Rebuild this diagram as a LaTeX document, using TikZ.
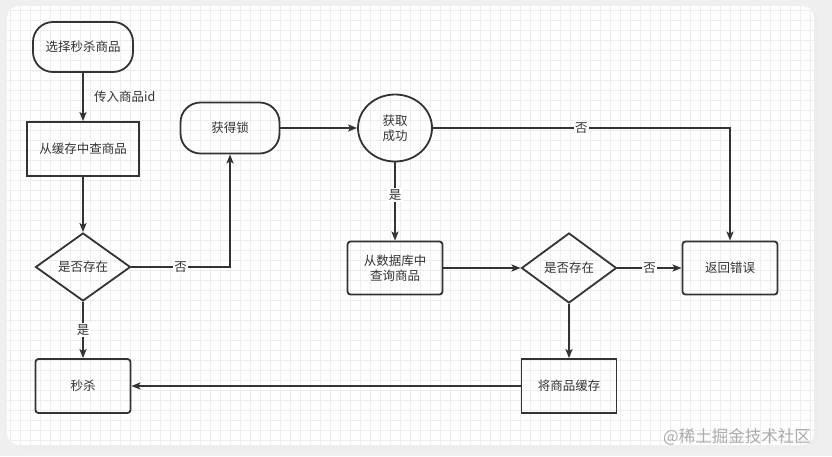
\documentclass[tikz,border=0pt]{standalone}
\usepackage{fontspec}
\setmainfont{Noto Sans CJK SC}
\usetikzlibrary{arrows.meta,shapes.geometric}
\definecolor{ink}{HTML}{333333}
\definecolor{pagebg}{HTML}{EFEFEF}
\definecolor{gridline}{HTML}{EDEDED}
\definecolor{mark}{HTML}{ABABAB}
\tikzset{terminal/.style={draw=ink,line width=1.8pt,rounded corners=20pt,minimum width=100pt,minimum height=50pt},text centered}
\tikzset{stepbox/.style={draw=ink,line width=1.8pt,line join=miter,minimum width=95pt,minimum height=54pt,align=center}}
\tikzset{roundbox/.style={stepbox,rounded corners=3pt}}
\tikzset{check/.style={draw=ink,line width=1.8pt,diamond,inner sep=0pt,minimum width=95pt,minimum height=68pt}}
\tikzset{flow/.style={draw=ink,line width=1.8pt,-{Stealth[length=9pt,width=7pt,inset=2pt]}}}
\tikzset{lab/.style={fill=white,inner sep=1.5pt}}

\begin{document}
\begin{tikzpicture}[x=1pt,y=-1pt,font=\fontsize{12.5}{15}\selectfont,text=ink]
  \useasboundingbox (0,0) rectangle (832,456);
  % page and card
  \fill[pagebg] (0,0) rectangle (832,456);
  \fill[black!7,rounded corners=12pt] (9,9) rectangle (818,449);
  \fill[white,rounded corners=12pt] (7,6) rectangle (814,445);
  \begin{scope}
    \clip[rounded corners=12pt] (7,6) rectangle (814,445);
    \foreach \gx in {10,20,...,810} \draw[gridline,line width=0.6pt] (\gx,6) -- (\gx,445);
    \foreach \gy in {10,20,...,440} \draw[gridline,line width=0.6pt] (7,\gy) -- (814,\gy);
  \end{scope}

  % nodes
  \node [terminal] (pick) at (83,47) {选择秒杀商品};
  \node [stepbox,minimum width=112pt] (cache) at (83,149) {从缓存中查商品};
  \node [check] (incache) at (83,267) {是否存在};
  \node [roundbox] (kill) at (83,386) {秒杀};
  \node [terminal,minimum width=99pt,minimum height=51pt] (lock) at (230,128) {获得锁};
  \node [draw=ink,line width=1.8pt,ellipse,minimum width=74pt,minimum height=67pt,align=center] (got) at (395,128) {获取\\成功};
  \node [roundbox,minimum height=53pt] (db) at (395,268) {从数据库中\\查询商品};
  \node [check,minimum height=70pt] (indb) at (569,268) {是否存在};
  \node [roundbox,minimum height=53pt] (err) at (730,268) {返回错误};
  \node [stepbox] (save) at (569,386) {将商品缓存};
  \node [text=mark,font=\fontsize{16.5}{18}\selectfont] (brand) at (737,437) {@稀土掘金技术社区};

  % connectors
  \draw [flow] (pick) -- node[right=7pt]{传入商品id} (cache);
  \draw [flow] (cache) -- (incache);
  \draw [flow] (incache) -- node[lab]{是} (kill);
  \draw [flow] (incache.east) -| node[lab,pos=0.25]{否} (lock.south);
  \draw [flow] (lock) -- (got);
  \draw [flow] (got.east) -| node[lab,pos=0.25]{否} (err.north);
  \draw [flow] (got) -- node[lab,pos=0.42]{是} (db);
  \draw [flow] (db) -- (indb);
  \draw [flow] (indb) -- node[lab]{否} (err);
  \draw [flow] (indb) -- (save);
  \draw [flow] (save) -- (kill);
\end{tikzpicture}
\end{document}
